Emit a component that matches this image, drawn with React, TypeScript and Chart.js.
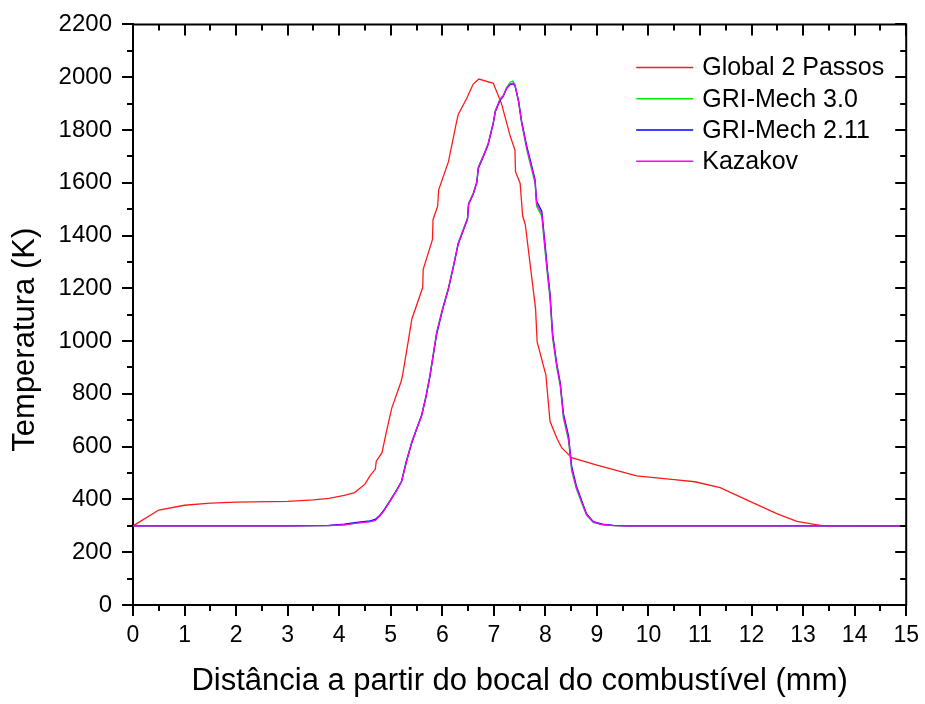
import React, { useEffect, useRef } from "react";
import { Chart, registerables } from "chart.js";

Chart.register(...registerables);

// ---- data ----
const seriesLabels = ["Global 2 Passos", "GRI-Mech 3.0", "GRI-Mech 2.11", "Kazakov"];
const seriesColors = ["#ff1a1a", "#00ee00", "#0000ff", "#ff00ff"];

const globalX = [0, 0.5, 1, 1.5, 2, 3, 3.5, 3.8, 4.1, 4.3, 4.5, 4.6, 4.7, 4.72, 4.83, 4.92, 5.02, 5.2, 5.23, 5.34, 5.41, 5.62, 5.63, 5.81, 5.82, 5.91, 5.93, 6.12, 6.27, 6.31, 6.47, 6.6, 6.71, 6.99, 7.15, 7.32, 7.41, 7.42, 7.51, 7.56, 7.61, 7.81, 7.84, 8.01, 8.09, 8.22, 8.32, 8.51, 9.0, 9.77, 10.5, 10.9, 11.39, 12.0, 12.5, 12.88, 13.36, 14, 15];
const globalY = [300, 360, 378, 386, 390, 393, 398, 404, 415, 426, 458, 490, 514, 545, 577, 660, 746, 846, 871, 1000, 1084, 1203, 1272, 1385, 1460, 1511, 1573, 1680, 1824, 1859, 1918, 1974, 1993, 1977, 1899, 1775, 1724, 1642, 1598, 1473, 1442, 1122, 997, 871, 696, 633, 595, 558, 530, 489, 475, 467, 445, 390, 345, 317, 301, 300, 300];

const griX = [0, 1, 2, 3, 3.8, 4.1, 4.34, 4.6, 4.7, 4.78, 4.86, 4.95, 5.02, 5.12, 5.21, 5.3, 5.41, 5.5, 5.6, 5.68, 5.76, 5.89, 6.0, 6.12, 6.22, 6.31, 6.49, 6.51, 6.6, 6.67, 6.7, 6.8, 6.89, 6.99, 7.03, 7.12, 7.18, 7.25, 7.32, 7.37, 7.41, 7.48, 7.54, 7.64, 7.72, 7.8, 7.83, 7.93, 7.99, 8.04, 8.09, 8.14, 8.16, 8.22, 8.29, 8.35, 8.45, 8.51, 8.6, 8.71, 8.8, 8.93, 9.1, 9.32, 9.6, 10, 11, 12, 13, 14, 15];
const gri30Y = [300, 300, 300, 300, 301, 304, 310, 316, 322, 336, 357, 385, 407, 438, 470, 545, 621, 668, 721, 790, 871, 1034, 1120, 1203, 1290, 1373, 1467, 1523, 1560, 1605, 1661, 1705, 1749, 1830, 1874, 1918, 1930, 1962, 1982, 1985, 1972, 1905, 1824, 1724, 1660, 1598, 1511, 1473, 1348, 1250, 1160, 1009, 984, 900, 827, 708, 621, 508, 440, 383, 340, 313, 305, 301, 300, 300, 300, 300, 300, 300, 300];
const gri211Y = [300, 300, 300, 300, 302, 306, 313, 319, 324, 338, 357, 383, 405, 436, 468, 540, 615, 665, 718, 785, 865, 1025, 1115, 1198, 1285, 1368, 1462, 1518, 1556, 1600, 1655, 1700, 1745, 1825, 1870, 1912, 1926, 1958, 1972, 1975, 1968, 1910, 1832, 1738, 1675, 1612, 1530, 1492, 1375, 1270, 1180, 1030, 1000, 915, 840, 725, 640, 525, 452, 392, 345, 316, 306, 302, 300, 300, 300, 300, 300, 300, 300];
const kazakovY = [300, 300, 300, 300, 301, 304, 310, 316, 321, 335, 355, 382, 404, 436, 468, 540, 618, 666, 719, 786, 868, 1030, 1117, 1200, 1287, 1370, 1464, 1520, 1558, 1602, 1658, 1702, 1747, 1828, 1872, 1915, 1928, 1960, 1975, 1978, 1970, 1908, 1828, 1730, 1668, 1605, 1520, 1482, 1360, 1260, 1170, 1018, 992, 908, 833, 716, 630, 515, 446, 388, 342, 314, 305, 301, 300, 300, 300, 300, 300, 300, 300];

const xMin = 0, xMax = 15, xMajor = 1, xMinor = 0.5;
const yMin = 0, yMax = 2200, yMajor = 200, yMinor = 100;
const xTitle = "Distância a partir do bocal do combustível (mm)";
const yTitle = "Temperatura (K)";

const FONT = "'Liberation Sans', Arial, Helvetica, sans-serif";

const toPoints = (xs: number[], ys: number[]) => xs.map((x, i) => ({ x, y: ys[i] }));

const framePlugin = {
  id: "frame",
  afterDraw(chart: any) {
    const { ctx, chartArea } = chart;
    const { left, right, top, bottom } = chartArea;
    const xs = chart.scales.x;
    const ys = chart.scales.y;
    ctx.save();
    ctx.strokeStyle = "#000";
    ctx.lineWidth = 2;
    ctx.beginPath();
    ctx.moveTo(left - 1, top);
    ctx.lineTo(right, top);
    ctx.lineTo(right, bottom + 1);
    const nx = Math.round((xMax - xMin) / xMinor);
    for (let i = 0; i <= nx; i++) {
      const v = xMin + i * xMinor;
      const px = Math.round(xs.getPixelForValue(v));
      const major = Math.abs(v / xMajor - Math.round(v / xMajor)) < 1e-6;
      const len = major ? 11 : 6;
      ctx.moveTo(px, top);
      ctx.lineTo(px, top + len);
      if (!major) {
        ctx.moveTo(px, bottom);
        ctx.lineTo(px, bottom + len);
      }
    }
    const ny = Math.round((yMax - yMin) / yMinor);
    for (let i = 0; i <= ny; i++) {
      const v = yMin + i * yMinor;
      const py = Math.round(ys.getPixelForValue(v));
      const major = Math.abs(v / yMajor - Math.round(v / yMajor)) < 1e-6;
      const len = major ? 11 : 6;
      ctx.moveTo(right, py);
      ctx.lineTo(right - len, py);
      if (!major) {
        ctx.moveTo(left, py);
        ctx.lineTo(left - len, py);
      }
    }
    ctx.stroke();

    // legend
    ctx.font = `25px ${FONT}`;
    ctx.textBaseline = "middle";
    ctx.textAlign = "left";
    chart.data.datasets.forEach((ds: any, i: number) => {
      const ry = top + 43 + i * 31.3;
      ctx.strokeStyle = ds.borderColor;
      ctx.lineWidth = 1.5;
      ctx.beginPath();
      ctx.moveTo(right - 270, ry);
      ctx.lineTo(right - 213, ry);
      ctx.stroke();
      ctx.fillStyle = "#000";
      ctx.fillText(ds.label, right - 204, ry + 1);
    });

    // y title
    ctx.translate(25, (top + bottom) / 2 + 25);
    ctx.rotate(-Math.PI / 2);
    ctx.textAlign = "center";
    ctx.textBaseline = "middle";
    ctx.font = `31px ${FONT}`;
    ctx.fillStyle = "#000";
    ctx.fillText(yTitle, 0, 0);
    ctx.restore();
  },
};

export default function App() {
  const ref = useRef<HTMLCanvasElement | null>(null);
  useEffect(() => {
    if (!ref.current) return;
    const ys = [globalY, gri30Y, gri211Y, kazakovY];
    const xsArr = [globalX, griX, griX, griX];
    const chart = new Chart(ref.current, {
      type: "line",
      data: {
        datasets: seriesLabels.map((label, i) => ({
          label,
          data: toPoints(xsArr[i], ys[i]),
          borderColor: seriesColors[i],
          backgroundColor: seriesColors[i],
          borderWidth: 1.3,
          pointRadius: 0,
          tension: 0,
          fill: false,
          order: 4 - i,
        })),
      },
      options: {
        animation: false,
        responsive: false,
        maintainAspectRatio: false,
        layout: { padding: { top: 20, right: 18, left: 0, bottom: 0 } },
        plugins: { legend: { display: false }, tooltip: { enabled: false } },
        scales: {
          x: {
            type: "linear",
            min: xMin,
            max: xMax,
            afterFit: (s: any) => { s.height = 99; },
            ticks: { stepSize: xMajor, color: "#000", font: { size: 23, family: FONT }, padding: 6, maxRotation: 0, callback: (v: any) => String(v) },
            grid: { drawOnChartArea: false, drawTicks: true, tickLength: 11, color: "#000", lineWidth: 2 },
            border: { display: true, color: "#000", width: 2 },
            title: { display: true, text: xTitle, color: "#000", font: { size: 31, family: FONT }, padding: { top: 0, bottom: 4 } },
          },
          y: {
            type: "linear",
            min: yMin,
            max: yMax,
            afterFit: (s: any) => { s.width = 133; },
            ticks: { stepSize: yMajor, color: "#000", font: { size: 24, family: FONT }, padding: 10, callback: (v: any) => String(v) },
            grid: { drawOnChartArea: false, drawTicks: true, tickLength: 11, color: "#000", lineWidth: 2 },
            border: { display: true, color: "#000", width: 2 },
          },
        },
      },
      plugins: [framePlugin],
    });
    return () => chart.destroy();
  }, []);
  return (
    <div style={{ position: "fixed", left: 0, top: 0, width: 925, height: 704, background: "#fff" }}>
      <canvas ref={ref} width={925} height={704} style={{ display: "block" }} />
    </div>
  );
}
